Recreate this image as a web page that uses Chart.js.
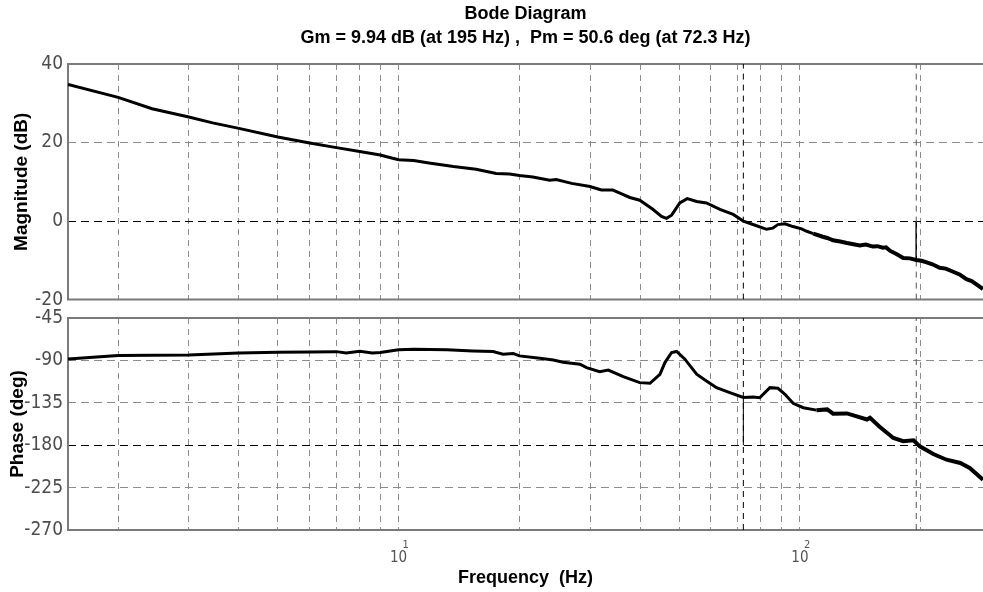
<!DOCTYPE html>
<html>
<head>
<meta charset="utf-8">
<title>Bode Diagram</title>
<script src="https://cdn.jsdelivr.net/npm/chart.js@4.4.1/dist/chart.umd.min.js"></script>
<style>
  html, body { margin: 0; padding: 0; background: #fff; }
  #wrap { position: relative; width: 983px; height: 592px; overflow: hidden; background: #fff; }
  #magChart { position: absolute; left: 0; top: 0; }
  #phaseChart { position: absolute; left: 0; top: 300px; }
</style>
</head>
<body>
<div id="wrap">
  <canvas id="magChart" width="983" height="316"></canvas>
  <canvas id="phaseChart" width="983" height="292"></canvas>
</div>
<script>
// magnitude response (Hz, dB)
const magFreq = [1.5, 2.0, 2.43, 3.0, 3.44, 4.0, 5.0, 6.0, 7.0, 8.0, 9.0, 9.5, 10.0, 10.9, 11.9,
  13.7, 15.6, 17.5, 18.9, 20.0, 21.6, 23.8, 24.7, 27.0, 30.0, 32.0, 34.2, 35.6, 37.7, 39.9,
  43.0, 45.2, 46.5, 47.9, 50.2, 52.4, 55.3, 58.5, 63.2, 68.2, 72.3, 78.0, 82.6, 85.6, 88.1,
  91.8, 96.1, 101, 104, 108, 114, 117, 121, 126, 131, 136, 141, 146, 152, 156, 161, 164, 168,
  174, 181, 188, 195, 201, 207, 214, 223, 231, 241, 250, 260, 268, 276, 286];
const magDb = [34.8, 31.5, 28.6, 26.5, 25.0, 23.6, 21.4, 19.9, 18.7, 17.7, 16.8, 16.2, 15.6, 15.4, 14.8,
  13.9, 13.2, 12.1, 12.0, 11.6, 11.2, 10.4, 10.6, 9.6, 8.8, 7.9, 7.9, 7.1, 6.0, 5.3,
  3.0, 1.2, 0.7, 1.5, 4.6, 5.7, 5.0, 4.6, 3.0, 1.7, 0.0, -1.2, -2.1, -1.8, -0.9,
  -0.7, -1.4, -2.0, -2.6, -3.2, -4.0, -4.3, -4.9, -5.2, -5.6, -5.9, -6.2, -6.0, -6.5, -6.4, -6.8, -6.7, -7.6,
  -8.4, -9.4, -9.5, -9.9, -10.1, -10.5, -11.0, -11.9, -12.1, -12.9, -13.6, -14.8, -15.3, -16.2, -17.3];

// phase response (Hz, deg)
const phaseFreq = [1.5, 2.0, 3.0, 4.0, 5.0, 6.0, 7.0, 7.4, 8.0, 8.6, 9.0, 10.0, 10.9, 13.2, 15.3,
  17.2, 18.2, 19.3, 20.0, 22.5, 24.3, 25.7, 28.3, 29.4, 31.7, 33.3, 36.3, 39.9, 42.3, 44.8,
  46.1, 47.9, 49.3, 51.7, 55.3, 58.5, 62.0, 66.9, 72.3, 76.5, 79.4, 84.2, 88.2, 91.8, 96.2,
  102, 110, 117, 121, 131, 136, 147, 149.5, 158, 171, 181, 192, 199, 215, 232, 251, 265, 286];
const phaseDeg = [-88.5, -84.9, -84.2, -82.1, -81.4, -81.0, -80.7, -82.1, -80.3, -82.1, -81.6, -78.8, -78.1, -78.8, -79.9,
  -80.5, -83.4, -82.6, -85.2, -87.7, -89.5, -91.9, -94.1, -97.6, -102.0, -100.3, -107.2, -113.6, -114.3, -104.7,
  -92.3, -81.6, -80.5, -88.7, -104.7, -111.8, -118.9, -124.2, -129.4, -128.9, -129.6, -118.9, -119.6, -126.0, -135.6,
  -140.2, -142.8, -142.0, -146.6, -146.3, -148.4, -152.7, -150.9, -160.5, -172.3, -175.8, -174.8, -181.2, -189.3, -195.4, -198.9, -204.2, -216.7];

const gridFreq = [2, 3, 4, 5, 6, 7, 8, 9, 10, 20, 30, 40, 50, 60, 70, 80, 90, 100, 200];
const magTicks = [-20, 0, 20, 40];
const phaseTicks = [-270, -225, -180, -135, -90, -45];

const gmDb = 9.94, gmFreq = 195;
const pmDeg = 50.6, pmFreq = 72.3;

const FREQ_MIN = 1.5, FREQ_MAX = 286;
const gridGray = '#8c8c8c';
const narrowFamily = "'DejaVu Sans', sans-serif";
const boldFamily = "'Liberation Sans', Arial, sans-serif";

function toXY(xs, ys) {
  return xs.map((x, i) => ({ x: x, y: ys[i] }));
}

// gray frame on left/top/bottom like the source figure
const framePlugin = {
  id: 'frame',
  beforeDatasetsDraw(chart) {
    const { ctx, chartArea: a } = chart;
    ctx.save();
    ctx.strokeStyle = '#7a7a7a';
    ctx.lineWidth = 2;
    ctx.beginPath();
    ctx.moveTo(a.right + 2, a.top);
    ctx.lineTo(a.left, a.top);
    ctx.lineTo(a.left, a.bottom);
    ctx.lineTo(a.right + 2, a.bottom);
    ctx.stroke();
    ctx.restore();
  }
};

// exponents for the 10^1, 10^2 labels
const exponentPlugin = {
  id: 'exponents',
  afterDraw(chart) {
    const { ctx } = chart;
    const xs = chart.scales.x;
    ctx.save();
    ctx.font = 'condensed 11px ' + narrowFamily;
    ctx.fillStyle = '#555';
    ctx.textAlign = 'left';
    ctx.textBaseline = 'alphabetic';
    [[10, '1'], [100, '2']].forEach(([v, e]) => {
      ctx.fillText(e, xs.getPixelForValue(v) + 4, xs.top + 18);
    });
    ctx.restore();
  }
};

function xScale(showLabels) {
  return {
    type: 'logarithmic',
    min: FREQ_MIN,
    max: FREQ_MAX,
    afterBuildTicks: (s) => { s.ticks = gridFreq.map(v => ({ value: v })); },
    afterFit: (s) => { s.height = showLabels ? 62 : 0; },
    grid: { color: gridGray, lineWidth: 1, drawTicks: false },
    border: { display: false, dash: [6, 5] },
    ticks: {
      display: showLabels,
      autoSkip: false,
      maxRotation: 0,
      padding: 19,
      color: '#555',
      font: { family: narrowFamily, size: 15, weight: 'condensed' },
      callback: (v) => (v === 10 || v === 100) ? '10' : ''
    },
    title: {
      display: showLabels,
      text: 'Frequency  (Hz)',
      color: '#000',
      font: { family: boldFamily, size: 18, weight: 'bold' },
      padding: { top: 0, bottom: 3 }
    }
  };
}

function yScale(min, max, tickList, darkValue, label, titlePad) {
  return {
    min: min,
    max: max,
    afterBuildTicks: (s) => { s.ticks = tickList.map(v => ({ value: v })); },
    afterFit: (s) => { s.width = 68; },
    grid: {
      drawTicks: false,
      lineWidth: 1,
      color: (c) => (c.tick && c.tick.value === darkValue) ? '#000' : gridGray
    },
    border: { display: false, dash: [8, 5] },
    ticks: {
      padding: 5,
      color: '#4d4d4d',
      font: { family: narrowFamily, size: 19, weight: 'condensed' }
    },
    title: {
      display: true,
      text: label,
      color: '#000',
      font: { family: boldFamily, size: 19, weight: 'bold' },
      padding: { top: titlePad, bottom: 0 }
    }
  };
}

function curve(xs, ys) {
  return {
    data: toXY(xs, ys),
    borderColor: '#000',
    borderWidth: 3,
    pointRadius: 0,
    tension: 0,
    segment: { borderWidth: (c) => c.p1.parsed.x > 110 ? 4 : 3 }
  };
}

function marker(points, color, dash) {
  return {
    data: points,
    borderColor: color,
    borderWidth: 1,
    borderDash: dash,
    pointRadius: 0
  };
}

const commonOpts = {
  responsive: false,
  animation: false,
  events: [],
  devicePixelRatio: 1
};

new Chart(document.getElementById('magChart').getContext('2d'), {
  type: 'line',
  data: {
    datasets: [
      curve(magFreq, magDb),
      marker([{ x: pmFreq, y: -20 }, { x: pmFreq, y: 40 }], '#000', [6, 5]),
      marker([{ x: gmFreq, y: -20 }, { x: gmFreq, y: 40 }], '#555', [6, 5]),
      marker([{ x: gmFreq, y: 0 }, { x: gmFreq, y: -gmDb }], '#000', [])
    ]
  },
  options: {
    ...commonOpts,
    layout: { padding: { left: 0, right: 0, top: 0, bottom: 10 } },
    scales: {
      x: xScale(false),
      y: yScale(-20, 40, magTicks, 0, 'Magnitude (dB)', 10)
    },
    plugins: {
      legend: { display: false },
      tooltip: { enabled: false },
      title: {
        display: true,
        fullSize: false,
        text: ['Bode Diagram', 'Gm = ' + gmDb + ' dB (at ' + gmFreq + ' Hz) ,  Pm = ' + pmDeg + ' deg (at ' + pmFreq + ' Hz)'],
        color: '#000',
        font: { family: boldFamily, size: 18, weight: 'bold', lineHeight: 1.333 },
        padding: { top: 2, bottom: 14 }
      }
    }
  },
  plugins: [framePlugin]
});

new Chart(document.getElementById('phaseChart').getContext('2d'), {
  type: 'line',
  data: {
    datasets: [
      curve(phaseFreq, phaseDeg),
      marker([{ x: pmFreq, y: -270 }, { x: pmFreq, y: -45 }], '#000', [6, 5]),
      marker([{ x: gmFreq, y: -270 }, { x: gmFreq, y: -45 }], '#555', [6, 5]),
      marker([{ x: pmFreq, y: -180 }, { x: pmFreq, y: -180 + pmDeg }], '#000', [])
    ]
  },
  options: {
    ...commonOpts,
    layout: { padding: { left: 0, right: 0, top: 18, bottom: 0 } },
    scales: {
      x: xScale(true),
      y: yScale(-270, -45, phaseTicks, -180, 'Phase (deg)', 6)
    },
    plugins: {
      legend: { display: false },
      tooltip: { enabled: false },
      title: { display: false }
    }
  },
  plugins: [framePlugin, exponentPlugin]
});
</script>
</body>
</html>
